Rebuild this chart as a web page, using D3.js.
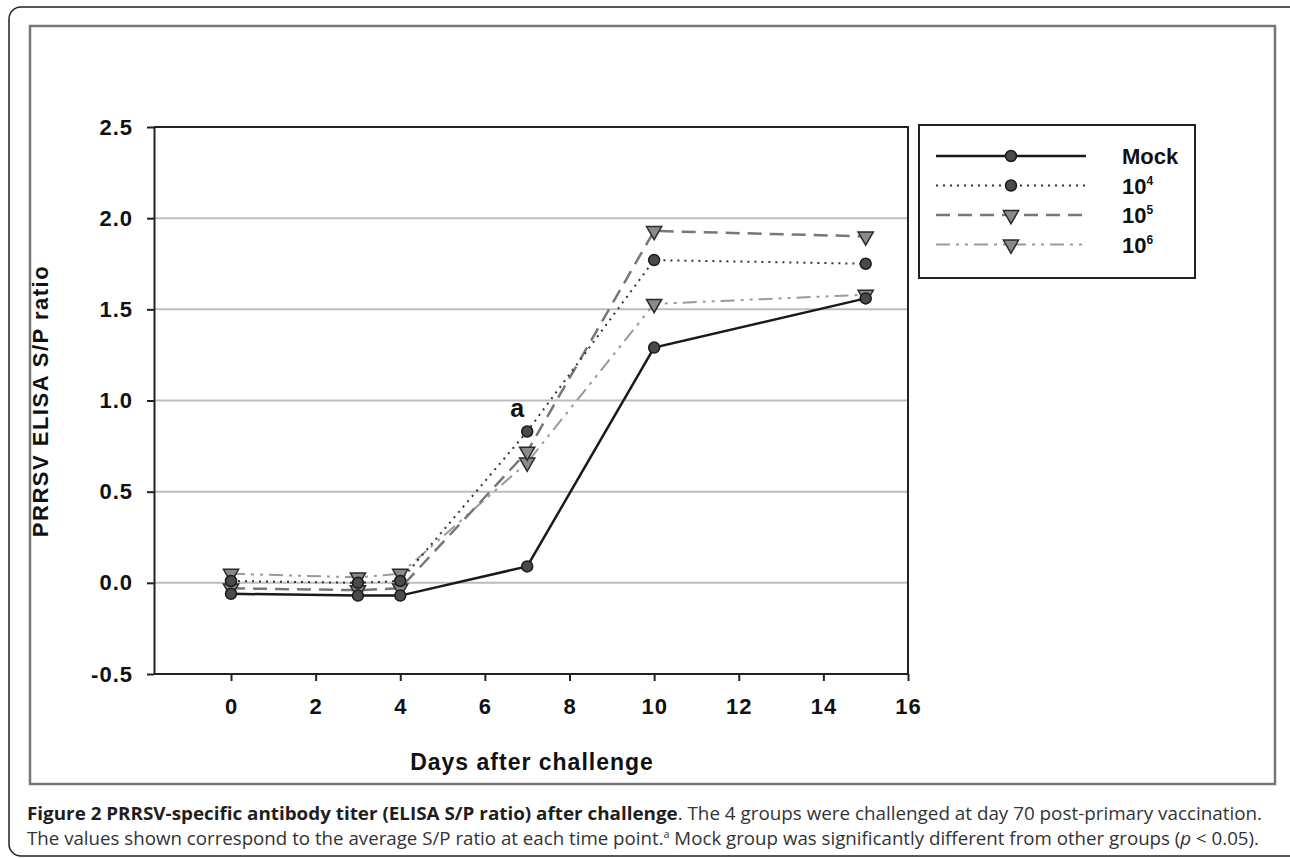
<!DOCTYPE html>
<html>
<head>
<meta charset="utf-8">
<script src="https://cdn.jsdelivr.net/npm/d3@7"></script>
<style>
  body { margin: 0; background: #fff; }
  svg { display: block; }
  .tick text { font-family: "Liberation Sans", Arial, sans-serif; font-weight: bold; font-size: 22px; letter-spacing: 1px; fill: #111; }
</style>
</head>
<body>
<svg id="chart" width="1290" height="858"></svg>
<script>
// Data
const days = [0, 3, 4, 7, 10, 15];
const mockValues = [-0.06, -0.07, -0.07, 0.09, 1.29, 1.56];
const dose4Values = [0.01, 0.00, 0.01, 0.83, 1.77, 1.75];
const dose5Values = [-0.03, -0.04, -0.03, 0.72, 1.93, 1.90];
const dose6Values = [0.05, 0.03, 0.05, 0.66, 1.53, 1.58];
const seriesNames = ["Mock", "10", "10", "10"];
const seriesExponents = ["", "4", "5", "6"];
const xTicks = [0, 2, 4, 6, 8, 10, 12, 14, 16];
const yTicks = [-0.5, 0.0, 0.5, 1.0, 1.5, 2.0, 2.5];
const yTickLabels = ["-0.5", "0.0", "0.5", "1.0", "1.5", "2.0", "2.5"];
const gridValues = [0.0, 0.5, 1.0, 1.5, 2.0];

const svg = d3.select('#chart');
const chartFont = '"Liberation Sans", Arial, sans-serif';

// Frames
svg.append('rect')
   .attr('x', 9).attr('y', 7).attr('width', 1320).attr('height', 849)
   .attr('rx', 12).attr('fill', 'none').attr('stroke', '#222').attr('stroke-width', 1.5);
svg.append('rect')
   .attr('x', 30).attr('y', 26).attr('width', 1245).attr('height', 758)
   .attr('fill', 'none').attr('stroke', '#777').attr('stroke-width', 2.5);

// Scales
const plot = { left: 154, right: 908, top: 127, bottom: 674 };
const x = d3.scaleLinear().domain([-1.82, 16]).range([plot.left, plot.right]);
const y = d3.scaleLinear().domain([-0.5, 2.5]).range([plot.bottom, plot.top]);

// Gridlines
svg.append('g')
   .selectAll('line')
   .data(gridValues)
   .enter()
   .append('line')
   .attr('x1', plot.left).attr('x2', plot.right)
   .attr('y1', d => y(d)).attr('y2', d => y(d))
   .attr('stroke', '#bdbdbd').attr('stroke-width', 2);

// Plot border (top / right)
svg.append('path')
   .attr('d', 'M' + plot.left + ',' + plot.top + 'H' + plot.right + 'V' + plot.bottom)
   .attr('fill', 'none').attr('stroke', '#222').attr('stroke-width', 2);

// Axes
const yAxis = d3.axisLeft(y)
   .tickValues(yTicks)
   .tickFormat((d, i) => yTickLabels[i])
   .tickSizeInner(7).tickSizeOuter(0).tickPadding(14);
const gy = svg.append('g')
   .attr('transform', 'translate(' + plot.left + ',0)')
   .call(yAxis);

const xAxis = d3.axisBottom(x)
   .tickValues(xTicks)
   .tickSizeInner(7).tickSizeOuter(0).tickPadding(17);
const gx = svg.append('g')
   .attr('transform', 'translate(0,' + plot.bottom + ')')
   .call(xAxis);

[gx, gy].forEach(g => {
  g.select('.domain').attr('stroke', '#222').attr('stroke-width', 2);
  g.selectAll('.tick line').attr('stroke', '#222').attr('stroke-width', 2);
});
gx.select('.domain').attr('d', 'M' + plot.left + ',0H' + plot.right);

// Axis titles
svg.append('text')
   .attr('x', 532).attr('y', 770)
   .attr('text-anchor', 'middle')
   .style('font-family', chartFont).style('letter-spacing', '1px')
   .style('font-weight', 'bold').style('font-size', '23px').attr('fill', '#111')
   .text('Days after challenge');
svg.append('text')
   .attr('transform', 'translate(48,401) rotate(-90)')
   .attr('text-anchor', 'middle')
   .style('font-family', chartFont).style('letter-spacing', '1.5px')
   .style('font-weight', 'bold').style('font-size', '22px').attr('fill', '#111')
   .text('PRRSV ELISA S/P ratio');

// Series
const series = [
  { values: dose6Values, stroke: '#9a9a9a', width: 2, dash: '14,6,3,6,3,6', marker: 'tri' },
  { values: dose5Values, stroke: '#777', width: 2.5, dash: '14,8', marker: 'tri' },
  { values: dose4Values, stroke: '#333', width: 2, dash: '2,5', marker: 'circle' },
  { values: mockValues, stroke: '#1a1a1a', width: 2.5, dash: null, marker: 'circle' }
];
const legendOrder = [3, 2, 1, 0];

const line = d3.line().x(d => x(d[0])).y(d => y(d[1]));

function drawMarker(g, type, cx, cy) {
  if (type === 'circle') {
    g.append('circle').attr('cx', cx).attr('cy', cy).attr('r', 5.5)
     .attr('fill', '#4a4a4a').attr('stroke', '#1a1a1a').attr('stroke-width', 1.5);
  } else {
    g.append('path')
     .attr('d', d3.symbol().type(d3.symbolTriangle).size(100)())
     .attr('transform', 'translate(' + cx + ',' + cy + ') rotate(180)')
     .attr('fill', '#8a8a8a').attr('stroke', '#2a2a2a').attr('stroke-width', 1.5);
  }
}

series.forEach(s => {
  const pts = days.map((d, i) => [d, s.values[i]]);
  const g = svg.append('g');
  g.append('path')
   .attr('d', line(pts))
   .attr('fill', 'none').attr('stroke', s.stroke).attr('stroke-width', s.width)
   .attr('stroke-dasharray', s.dash);
  pts.forEach(p => drawMarker(g, s.marker, x(p[0]), y(p[1])));
});

// Significance mark
svg.append('text')
   .attr('x', x(7) - 10).attr('y', y(0.83) - 14)
   .attr('text-anchor', 'middle')
   .style('font-family', chartFont)
   .style('font-weight', 'bold').style('font-size', '25px').attr('fill', '#111')
   .text('a');

// Legend
const legend = svg.append('g');
legend.append('rect')
   .attr('x', 919).attr('y', 125).attr('width', 276).attr('height', 153)
   .attr('fill', '#fff').attr('stroke', '#222').attr('stroke-width', 2);
legendOrder.forEach((si, k) => {
  const s = series[si];
  const ly = 156 + k * 29.5;
  legend.append('line')
     .attr('x1', 936).attr('x2', 1086).attr('y1', ly).attr('y2', ly)
     .attr('stroke', s.stroke).attr('stroke-width', s.width)
     .attr('stroke-dasharray', s.dash);
  drawMarker(legend, s.marker, 1011, ly);
  const t = legend.append('text')
     .attr('x', 1122).attr('y', ly + 8)
     .style('font-family', chartFont)
     .style('font-weight', 'bold').style('font-size', '22px').attr('fill', '#111')
     .text(seriesNames[k]);
  if (seriesExponents[k]) {
    t.append('tspan').attr('dy', -9).style('font-size', '12px').text(seriesExponents[k]);
  }
});

// Caption
const capFont = '"Open Sans", "Noto Sans", sans-serif';
const cap1 = svg.append('text')
   .attr('x', 27).attr('y', 820)
   .attr('textLength', 1235).attr('lengthAdjust', 'spacingAndGlyphs')
   .style('font-family', capFont).style('font-size', '17.5px').attr('fill', '#333');
cap1.append('tspan').style('font-weight', 'bold').attr('fill', '#1e1e1e')
   .text('Figure 2 PRRSV-specific antibody titer (ELISA S/P ratio) after challenge');
cap1.append('tspan')
   .text('. The 4 groups were challenged at day 70 post-primary vaccination.');

const cap2 = svg.append('text')
   .attr('x', 27).attr('y', 845)
   .attr('textLength', 1232).attr('lengthAdjust', 'spacingAndGlyphs')
   .style('font-family', capFont).style('font-size', '17.5px').attr('fill', '#333');
cap2.append('tspan').text('The values shown correspond to the average S/P ratio at each time point.');
cap2.append('tspan').attr('dy', -7).style('font-size', '10px').text('a');
cap2.append('tspan').attr('dy', 7).text(' Mock group was significantly different from other groups (');
cap2.append('tspan').style('font-style', 'italic').text('p');
cap2.append('tspan').text(' < 0.05).');
</script>
</body>
</html>
